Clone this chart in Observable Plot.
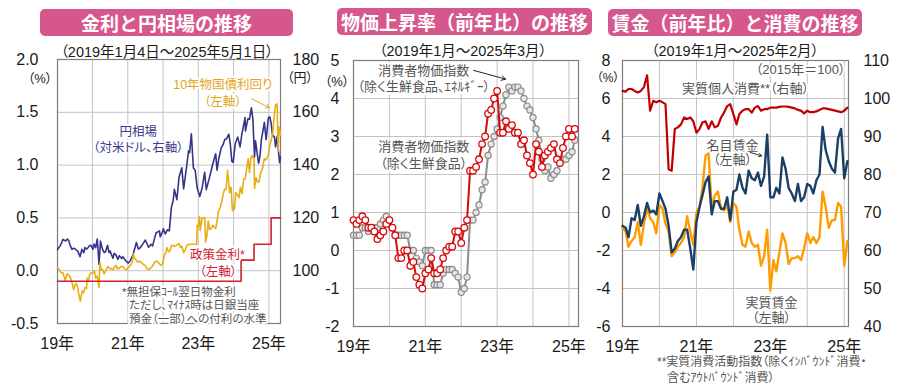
<!DOCTYPE html>
<html><head><meta charset="utf-8">
<script src="https://cdn.jsdelivr.net/npm/d3@7"></script>
<script src="https://cdn.jsdelivr.net/npm/@observablehq/plot@0.6"></script>
<style>
body{margin:0;background:#fff;}
#wrap{position:relative;width:900px;height:390px;overflow:hidden;font-family:"Liberation Sans","Noto Sans CJK JP",sans-serif;font-feature-settings:"palt";color:#1a1a1a;}
#wrap svg{position:absolute;left:0;top:0;background:transparent !important;font-family:"Liberation Sans","Noto Sans CJK JP",sans-serif;font-size:16px;font-feature-settings:"palt";color:#1a1a1a;}
.t{position:absolute;background:#d5578c;color:#fff;font-weight:bold;font-size:19px;text-align:center;height:27px;line-height:27px;border-radius:5px;font-family:"Noto Sans CJK JP",sans-serif;font-feature-settings:normal;z-index:5}
.lbl{position:absolute;white-space:nowrap;transform:translate(-50%,-50%);z-index:5}
.fn{position:absolute;white-space:nowrap;transform:translateY(-50%);font-size:12px;color:#555;z-index:5}
</style></head><body><div id="wrap">
<div class="t" style="left:40px;top:9px;width:253px">金利と円相場の推移</div>
<div class="t" style="left:337px;top:8px;width:255px">物価上昇率（前年比）の推移</div>
<div class="t" style="left:608px;top:9px;width:254px">賃金（前年比）と消費の推移</div>
<div class="lbl" style="left:167px;top:50px;font-size:14.5px">（2019年1月4日～2025年5月1日）</div>
<div class="lbl" style="left:463px;top:49px;font-size:14.5px">（2019年1月～2025年3月）</div>
<div class="lbl" style="left:735px;top:49px;font-size:14.5px">（2019年1月～2025年2月）</div>
<div class="lbl" style="left:40px;top:77px;font-size:13px">（%）</div>
<div class="lbl" style="left:300px;top:76px;font-size:13px">（円）</div>
<div class="lbl" style="left:337px;top:80px;font-size:13px">（%）</div>
<div class="lbl" style="left:608px;top:76px;font-size:12px">（%）</div>
<div class="fn" style="left:657px;top:360px">**実質消費活動指数（除くｲﾝﾊﾞｳﾝﾄﾞ消費・</div>
<div class="fn" style="left:667px;top:376px">含むｱｳﾄﾊﾞｳﾝﾄﾞ消費）</div>
</div>
<script>
// ---------- Panel 1 data ----------
const yenTicks = [100, 120, 140, 160, 180];
const rateTicks = [-0.5, 0, 0.5, 1.0, 1.5, 2.0];
const yearLabels = [2019, 2021, 2023, 2025];
const gridYears = [2020, 2021, 2022, 2023, 2024, 2025];

const yenSeries = [
["2019-01-04",108.0],["2019-01-15",108.6],["2019-02-01",109.5],["2019-02-15",110.5],["2019-03-01",111.9],["2019-03-15",111.5],
["2019-04-01",111.3],["2019-04-15",112.0],["2019-05-01",111.4],["2019-05-15",109.6],["2019-06-03",108.1],["2019-06-17",108.5],
["2019-07-01",108.4],["2019-07-15",107.9],["2019-08-01",107.5],["2019-08-15",106.3],["2019-08-26",105.3],["2019-09-13",108.1],
["2019-10-03",106.8],["2019-10-15",108.8],["2019-11-01",108.2],["2019-11-15",108.7],["2019-12-02",109.5],["2019-12-16",109.6],
["2020-01-06",108.1],["2020-01-17",110.1],["2020-02-03",108.7],["2020-02-20",112.0],["2020-03-09",102.4],["2020-03-24",111.2],
["2020-04-06",109.2],["2020-04-20",107.6],["2020-05-01",106.9],["2020-05-15",107.2],["2020-06-05",109.6],["2020-06-20",106.9],
["2020-07-01",107.5],["2020-07-31",104.7],["2020-08-14",106.6],["2020-09-01",105.9],["2020-09-21",104.3],["2020-10-05",105.7],
["2020-10-30",104.6],["2020-11-10",105.3],["2020-11-30",104.3],["2020-12-15",103.6],["2021-01-06",102.9],["2021-01-25",103.7],
["2021-02-15",105.3],["2021-03-01",106.7],["2021-03-31",110.7],["2021-04-20",108.2],["2021-05-10",108.7],["2021-05-31",109.8],
["2021-06-17",110.8],["2021-07-02",111.6],["2021-08-04",108.9],["2021-08-31",110.0],["2021-09-15",109.4],["2021-09-30",111.6],
["2021-10-20",114.3],["2021-11-24",115.1],["2021-12-03",112.8],["2021-12-30",115.1],["2022-01-04",115.9],["2022-01-24",113.9],
["2022-02-15",115.5],["2022-03-07",115.1],["2022-03-28",123.9],["2022-04-15",126.4],["2022-04-28",130.8],["2022-05-24",126.9],
["2022-06-15",135.3],["2022-07-14",139.0],["2022-08-02",131.0],["2022-08-31",138.9],["2022-09-22",145.4],["2022-10-03",144.7],
["2022-10-21",151.9],["2022-11-11",138.9],["2022-11-30",138.0],["2022-12-20",131.4],["2023-01-16",128.1],["2023-02-10",131.4],
["2023-03-08",137.3],["2023-03-24",130.7],["2023-04-20",134.3],["2023-05-30",140.3],["2023-06-30",144.3],["2023-07-14",138.1],
["2023-07-31",142.3],["2023-08-25",146.4],["2023-09-15",147.8],["2023-10-03",149.8],["2023-10-20",149.9],["2023-11-13",151.7],
["2023-11-30",147.3],["2023-12-14",141.4],["2023-12-28",141.0],["2024-01-19",148.2],["2024-02-13",150.6],["2024-03-08",146.9],
["2024-03-27",151.7],["2024-04-29",158.0],["2024-05-03",152.9],["2024-05-29",157.6],["2024-06-14",157.4],["2024-07-03",161.7],
["2024-07-19",157.5],["2024-08-05",143.1],["2024-08-15",149.2],["2024-09-16",140.7],["2024-10-01",143.6],["2024-10-15",149.6],
["2024-11-15",156.2],["2024-12-03",149.6],["2024-12-26",157.8],["2025-01-10",158.3],["2025-01-24",155.9],["2025-02-07",151.4],
["2025-02-28",150.6],["2025-03-11",146.9],["2025-03-28",151.0],["2025-04-08",146.0],["2025-04-21",140.9],["2025-05-01",143.1]
];

const jgbSeries = [
["2019-01-04",0.03],["2019-01-15",0.02],["2019-02-01",-0.01],["2019-02-15",-0.02],["2019-03-01",-0.02],["2019-03-25",-0.09],
["2019-04-15",-0.03],["2019-05-01",-0.04],["2019-05-15",-0.06],["2019-06-03",-0.11],["2019-06-20",-0.18],["2019-07-01",-0.14],
["2019-07-15",-0.12],["2019-08-01",-0.16],["2019-08-15",-0.24],["2019-08-29",-0.29],["2019-09-10",-0.22],["2019-09-20",-0.19],
["2019-10-01",-0.21],["2019-10-15",-0.16],["2019-11-01",-0.17],["2019-11-08",-0.07],["2019-11-20",-0.10],["2019-12-02",-0.04],
["2019-12-17",-0.02],["2019-12-27",-0.02],["2020-01-08",-0.02],["2020-01-20",0.00],["2020-02-03",-0.07],["2020-02-20",-0.05],
["2020-03-09",-0.16],["2020-03-18",0.08],["2020-03-31",0.01],["2020-04-15",0.01],["2020-05-01",-0.03],["2020-05-20",0.00],
["2020-06-08",0.04],["2020-06-30",0.02],["2020-07-15",0.02],["2020-08-03",0.01],["2020-08-20",0.04],["2020-09-01",0.05],
["2020-09-15",0.02],["2020-10-01",0.02],["2020-10-21",0.04],["2020-11-09",0.04],["2020-11-30",0.02],["2020-12-15",0.01],
["2020-12-30",0.02],["2021-01-15",0.04],["2021-01-29",0.05],["2021-02-15",0.08],["2021-02-26",0.16],["2021-03-10",0.12],
["2021-03-31",0.10],["2021-04-15",0.08],["2021-05-01",0.09],["2021-05-20",0.08],["2021-06-10",0.06],["2021-06-30",0.05],
["2021-07-15",0.02],["2021-08-04",0.01],["2021-08-20",0.02],["2021-09-10",0.04],["2021-09-30",0.07],["2021-10-15",0.09],
["2021-11-01",0.09],["2021-11-30",0.06],["2021-12-15",0.05],["2021-12-30",0.07],["2022-01-14",0.15],["2022-01-31",0.17],
["2022-02-10",0.22],["2022-02-28",0.18],["2022-03-15",0.19],["2022-03-29",0.24],["2022-04-15",0.24],["2022-05-02",0.23],
["2022-05-20",0.24],["2022-06-15",0.26],["2022-06-30",0.22],["2022-07-15",0.23],["2022-08-03",0.17],["2022-08-20",0.20],
["2022-09-05",0.24],["2022-09-30",0.25],["2022-10-14",0.25],["2022-11-01",0.25],["2022-11-30",0.25],["2022-12-15",0.25],
["2022-12-20",0.43],["2022-12-30",0.42],["2023-01-13",0.51],["2023-01-20",0.38],["2023-02-10",0.50],["2023-03-09",0.50],
["2023-03-17",0.27],["2023-03-31",0.33],["2023-04-14",0.47],["2023-04-28",0.39],["2023-05-15",0.40],["2023-05-31",0.43],
["2023-06-15",0.41],["2023-06-30",0.40],["2023-07-14",0.47],["2023-07-28",0.56],["2023-08-15",0.60],["2023-08-31",0.65],
["2023-09-15",0.72],["2023-09-29",0.77],["2023-10-16",0.77],["2023-10-31",0.95],["2023-11-08",0.87],["2023-11-22",0.74],
["2023-12-07",0.79],["2023-12-20",0.57],["2023-12-29",0.61],["2024-01-10",0.58],["2024-01-24",0.74],["2024-02-09",0.72],
["2024-02-27",0.69],["2024-03-11",0.79],["2024-03-29",0.73],["2024-04-15",0.87],["2024-04-30",0.87],["2024-05-22",1.00],
["2024-05-31",1.06],["2024-06-14",0.93],["2024-06-28",1.07],["2024-07-10",1.09],["2024-07-31",1.05],["2024-08-05",0.78],
["2024-08-20",0.88],["2024-09-05",0.84],["2024-09-20",0.84],["2024-10-08",0.93],["2024-10-25",0.96],["2024-11-14",1.06],
["2024-11-29",1.05],["2024-12-10",1.06],["2024-12-27",1.10],["2025-01-10",1.19],["2025-01-24",1.23],["2025-02-10",1.30],
["2025-02-21",1.43],["2025-03-10",1.57],["2025-03-27",1.58],["2025-04-07",1.13],["2025-04-15",1.36],["2025-04-25",1.33],
["2025-05-01",1.28]
];

const policySeries = [["2019-01-04",-0.1],["2024-03-19",0.1],["2024-07-31",0.25],["2025-01-24",0.5],["2025-05-01",0.5]];

// ---------- Panel 2 data (monthly, 2019-01 .. 2025-03) ----------
const cpiTicks = [-2, -1, 0, 1, 2, 3, 4, 5];
const coreCPI = [
0.8,0.7,0.8,0.9,0.8,0.6,0.6,0.5,0.3,0.4,0.5,0.7,
0.8,0.6,0.4,-0.2,-0.2,0.0,0.0,-0.4,-0.3,-0.7,-0.9,-1.0,
-0.6,-0.5,-0.2,-0.6,-0.6,-0.5,-0.2,0.0,0.1,0.1,0.5,0.5,
0.2,0.6,0.8,2.1,2.1,2.2,2.4,2.8,3.0,3.6,3.7,4.0,
4.2,3.1,3.1,3.4,3.2,3.3,3.1,3.1,2.8,2.9,2.5,2.3,
2.0,2.8,2.6,2.2,2.5,2.6,2.7,2.8,2.4,2.3,2.7,3.0,
3.2,3.0,3.2];
const coreCoreCPI = [
0.4,0.4,0.4,0.6,0.6,0.5,0.6,0.6,0.6,0.7,0.8,0.9,
0.8,0.6,0.4,0.4,0.4,0.4,0.4,0.0,0.0,-0.2,-0.3,-0.4,
0.0,0.0,0.0,-0.9,-0.9,-0.9,-0.6,-0.5,-0.5,-0.5,-0.6,-0.7,
-1.1,-1.0,-0.7,0.8,0.8,1.0,1.2,1.6,1.8,2.5,2.8,3.0,
3.2,3.5,3.8,4.1,4.3,4.2,4.3,4.3,4.2,4.0,3.8,3.7,
3.5,3.2,2.9,2.4,2.1,2.2,1.9,2.0,2.1,2.3,2.4,2.4,
2.5,2.6,2.9];

// ---------- Panel 3 data (monthly, 2019-01 .. 2025-02) ----------
const wageTicks = [-6, -4, -2, 0, 2, 4, 6, 8];
const consTicks = [40, 50, 60, 70, 80, 90, 100, 110];
const nominalWage = [
-0.7,-0.8,-1.3,-0.3,-0.4,0.4,-0.7,-0.2,0.5,0.0,0.1,-0.1,
1.0,0.6,0.2,-0.7,-2.1,-1.9,-1.5,-1.3,-0.9,-0.9,-1.9,-3.0,
-0.5,0.3,0.9,1.6,1.9,-0.1,0.6,0.6,0.2,0.2,0.8,-0.4,
1.1,1.2,2.0,1.3,1.0,2.2,1.8,1.7,2.1,1.4,1.9,4.1,
0.8,0.8,1.3,1.0,2.9,2.3,1.3,1.0,0.6,1.5,0.6,0.8,
1.5,1.4,1.0,1.7,2.0,4.5,3.3,2.7,2.3,2.1,3.9,4.4,
1.8,2.7];
const realWage = [
-0.8,-1.0,-1.8,-1.5,-1.3,-0.5,-1.7,-0.6,0.2,-0.3,-0.5,-1.1,
0.4,0.2,-0.6,-1.0,-2.3,-2.1,-1.8,-1.6,-1.3,-0.2,-1.0,-1.7,
0.0,0.3,1.3,3.0,3.1,0.2,0.9,1.1,0.2,0.1,0.4,-0.5,
0.5,0.3,-0.9,-1.7,-1.8,-1.0,-1.6,-1.8,-1.7,-2.8,-2.3,-0.9,
-4.1,-2.5,-3.1,-2.1,-1.1,-1.6,-2.7,-2.4,-2.4,-2.3,-2.5,-1.9,
-1.1,-1.6,-1.3,-1.6,-1.3,1.1,0.3,-0.8,-0.4,-0.4,0.5,0.3,
-2.8,-1.5];
const realConsumption = [
102.0,101.8,102.5,102.5,102.0,101.6,102.0,103.0,106.1,96.8,99.4,99.0,
99.4,99.0,98.5,81.4,81.0,92.0,92.4,93.2,95.0,94.6,95.0,94.0,
91.0,92.0,93.7,94.0,92.0,94.0,92.4,92.8,95.0,96.3,98.0,98.5,
95.9,93.2,95.9,96.8,97.2,97.2,96.3,97.6,98.0,96.8,97.2,97.2,
97.6,97.6,97.6,97.8,97.9,97.9,97.8,97.6,97.4,97.0,96.8,96.1,
96.8,96.4,96.4,96.6,97.0,97.4,97.4,97.2,97.0,96.8,96.6,96.4,
96.8,97.6];

// ---------- helpers ----------
const D = s => new Date(s + "T00:00:00Z");
const Y = y => new Date(Date.UTC(y, 0, 1));
const M = i => new Date(Date.UTC(2019, i, 1));
const yrFmt = d => `${d.getUTCFullYear() % 100}年`;
const wrap = document.getElementById("wrap");
const GRID = "#c3c3c3", FRAME = "#7d7d7d";
const halo = {stroke: "white", strokeWidth: 4, paintOrder: "stroke"};

// ---------- Panel 1 ----------
const toLeft1 = v => (v - 100) / 40;
const yenData = yenSeries.map(([d, v]) => ({date: D(d), y: toLeft1(v)}));
const jgbData = jgbSeries.map(([d, v]) => ({date: D(d), y: v}));
const polData = policySeries.map(([d, v]) => ({date: D(d), y: v}));
const C_YEN = "#34348a", C_JGB = "#e8ae14", C_POL = "#d0202e";

const p1 = Plot.plot({
  width: 900, height: 390, marginLeft: 57, marginRight: 620, marginTop: 59, marginBottom: 67,
  x: {type: "utc", domain: [D("2019-01-04"), D("2025-05-01")], axis: null},
  y: {domain: [-0.5, 2.0], axis: null},
  marks: [
    Plot.gridX({ticks: gridYears.map(Y), stroke: GRID, strokeOpacity: 1}),
    Plot.gridY({ticks: rateTicks, stroke: GRID, strokeOpacity: 1}),
    Plot.frame({stroke: FRAME, strokeWidth: 1.2}),
    Plot.text(["*無担保ｺｰﾙ翌日物金利"], {x: D("2020-11-01"), y: -0.204, textAnchor: "start", fontSize: 11.5, fill: "#555", ...halo}),
    Plot.text(["ただし、ﾏｲﾅｽ時は日銀当座"], {x: D("2021-01-14"), y: -0.33, textAnchor: "start", fontSize: 11.5, fill: "#555", ...halo}),
    Plot.text(["預金（一部）への付利の水準"], {x: D("2021-01-14"), y: -0.46, textAnchor: "start", fontSize: 11.5, fill: "#555", ...halo}),
    Plot.line(yenData, {x: "date", y: "y", stroke: C_YEN, strokeWidth: 1.6}),
    Plot.line(jgbData, {x: "date", y: "y", stroke: C_JGB, strokeWidth: 1.6}),
    Plot.line(polData, {x: "date", y: "y", stroke: C_POL, strokeWidth: 1.6, curve: "step-after"}),
    Plot.text(["10年物国債利回り"], {x: D("2023-09-12"), y: 1.755, fontSize: 12.5, fill: "#e3a61a", ...halo}),
    Plot.text(["（左軸）"], {x: D("2023-09-12"), y: 1.595, fontSize: 12.5, fill: "#e3a61a", ...halo}),
    Plot.arrow([0], {x1: D("2024-07-06"), y1: 1.628, x2: D("2025-01-06"), y2: 1.543, stroke: "#e3a61a", strokeWidth: 1, headLength: 6}),
    Plot.text(["円相場"], {x: D("2021-04-20"), y: 1.31, fontSize: 12.5, fill: "#3a3a8c", ...halo}),
    Plot.text(["（対米ドル、右軸）"], {x: D("2021-04-20"), y: 1.165, fontSize: 12.5, fill: "#3a3a8c", ...halo}),
    Plot.text(["政策金利*"], {x: D("2023-07-19"), y: 0.144, fontSize: 12.5, fill: C_POL, ...halo}),
    Plot.text(["（左軸）"], {x: D("2023-07-26"), y: -0.01, fontSize: 12.5, fill: C_POL, ...halo}),
    Plot.axisY({ticks: rateTicks, tickFormat: d => d.toFixed(1), tickSize: 0, tickPadding: 19, fontSize: 16, label: null, anchor: "left"}),
    Plot.axisY({ticks: yenTicks.map(toLeft1), tickFormat: d => String(Math.round(100 + 40 * d)), tickSize: 0, tickPadding: 12, fontSize: 16, label: null, anchor: "right"}),
    Plot.axisX({ticks: yearLabels.map(Y), tickFormat: yrFmt, tickSize: 0, tickPadding: 14, fontSize: 16, label: null, anchor: "bottom"})
  ]
});
wrap.appendChild(p1);

// ---------- Panel 2 ----------
const cpiData = coreCPI.map((v, i) => ({date: M(i), y: v}));
const cpi2Data = coreCoreCPI.map((v, i) => ({date: M(i), y: v}));
const C_RED2 = "#d60a0a", C_GRAY = "#8c8c8c";
const p2 = Plot.plot({
  width: 900, height: 390, marginLeft: 353, marginRight: 322, marginTop: 60, marginBottom: 64,
  x: {type: "utc", domain: [D("2019-01-01"), D("2025-04-08")], axis: null},
  y: {domain: [-2, 5], axis: null},
  marks: [
    Plot.gridX({ticks: gridYears.map(Y), stroke: GRID, strokeOpacity: 1}),
    Plot.gridY({ticks: cpiTicks, stroke: GRID, strokeOpacity: 1}),
    Plot.frame({stroke: FRAME, strokeWidth: 1.2}),
    Plot.text(["消費者物価指数"], {x: D("2020-12-16"), y: 4.74, fontSize: 13, fill: "#555", ...halo}),
    Plot.text(["（除く生鮮食品、ｴﾈﾙｷﾞｰ）"], {x: D("2020-12-16"), y: 4.30, fontSize: 13, fill: "#555", ...halo}),
    Plot.arrow([0], {x1: D("2022-05-07"), y1: 4.74, x2: D("2023-03-28"), y2: 4.51, stroke: "#222", strokeWidth: 1, headLength: 7}),
    Plot.text(["消費者物価指数"], {x: D("2020-12-16"), y: 2.73, fontSize: 13, fill: "#555", ...halo}),
    Plot.text(["（除く生鮮食品）"], {x: D("2020-12-16"), y: 2.29, fontSize: 13, fill: "#555", ...halo}),
    Plot.line(cpi2Data, {x: "date", y: "y", stroke: C_GRAY, strokeWidth: 2}),
    Plot.dot(cpi2Data, {x: "date", y: "y", r: 3.1, fill: "#e6e6e6", stroke: C_GRAY, strokeWidth: 1.2}),
    Plot.line(cpiData, {x: "date", y: "y", stroke: C_RED2, strokeWidth: 2}),
    Plot.dot(cpiData, {x: "date", y: "y", r: 3.3, fill: "white", stroke: C_RED2, strokeWidth: 1.3}),
    Plot.axisY({ticks: cpiTicks, tickFormat: d => String(d), tickSize: 0, tickPadding: 14, fontSize: 16, label: null, anchor: "left"}),
    Plot.axisX({ticks: yearLabels.map(Y), tickFormat: yrFmt, tickSize: 0, tickPadding: 14, fontSize: 16, label: null, anchor: "bottom"})
  ]
});
wrap.appendChild(p2);

// ---------- Panel 3 ----------
const toLeft3 = v => (v - 70) / 5;
const nomData = nominalWage.map((v, i) => ({date: M(i), y: v}));
const realData = realWage.map((v, i) => ({date: M(i), y: v}));
const consData = realConsumption.map((v, i) => ({date: M(i), y: toLeft3(v)}));
const C_NAVY = "#1c3f66", C_ORG = "#ff9d00", C_RED3 = "#c00000";
const p3 = Plot.plot({
  width: 900, height: 390, marginLeft: 622, marginRight: 52, marginTop: 60, marginBottom: 64,
  x: {type: "utc", domain: [D("2019-01-01"), D("2025-02-12")], axis: null},
  y: {domain: [-6, 8], axis: null},
  marks: [
    Plot.gridX({ticks: gridYears.map(Y), stroke: GRID, strokeOpacity: 1}),
    Plot.gridY({ticks: wageTicks, stroke: GRID, strokeOpacity: 1}),
    Plot.frame({stroke: FRAME, strokeWidth: 1.2}),
    Plot.text(["（2015年＝100）"], {x: D("2025-01-13"), y: 7.51, textAnchor: "end", fontSize: 13, fill: "#555", ...halo}),
    Plot.text(["実質個人消費**（右軸）"], {x: D("2022-05-01"), y: 6.53, fontSize: 13, fill: "#555", ...halo}),
    Plot.text(["名目賃金"], {x: D("2021-12-24"), y: 3.51, fontSize: 13, fill: "#555", ...halo}),
    Plot.text(["（左軸）"], {x: D("2021-12-24"), y: 2.77, fontSize: 13, fill: "#555", ...halo}),
    Plot.text(["実質賃金"], {x: D("2023-01-12"), y: -4.75, fontSize: 13, fill: "#555", ...halo}),
    Plot.text(["（左軸）"], {x: D("2023-01-12"), y: -5.53, fontSize: 13, fill: "#555", ...halo}),
    Plot.line(realData, {x: "date", y: "y", stroke: C_ORG, strokeWidth: 2.4}),
    Plot.line(nomData, {x: "date", y: "y", stroke: C_NAVY, strokeWidth: 2.4}),
    Plot.line(consData, {x: "date", y: "y", stroke: C_RED3, strokeWidth: 2.2}),
    Plot.arrow([0], {x1: D("2022-06-17"), y1: 3.16, x2: D("2022-10-08"), y2: 2.98, stroke: "#333", strokeWidth: 1, headLength: 5}),
    Plot.axisY({ticks: wageTicks, tickFormat: d => String(d), tickSize: 0, tickPadding: 12, fontSize: 16, label: null, anchor: "left"}),
    Plot.axisY({ticks: consTicks.map(toLeft3), tickFormat: d => String(Math.round(70 + 5 * d)), tickSize: 0, tickPadding: 15, fontSize: 16, label: null, anchor: "right"}),
    Plot.axisX({ticks: yearLabels.map(Y), tickFormat: yrFmt, tickSize: 0, tickPadding: 14, fontSize: 16, label: null, anchor: "bottom"})
  ]
});
wrap.appendChild(p3);
</script></body></html>
